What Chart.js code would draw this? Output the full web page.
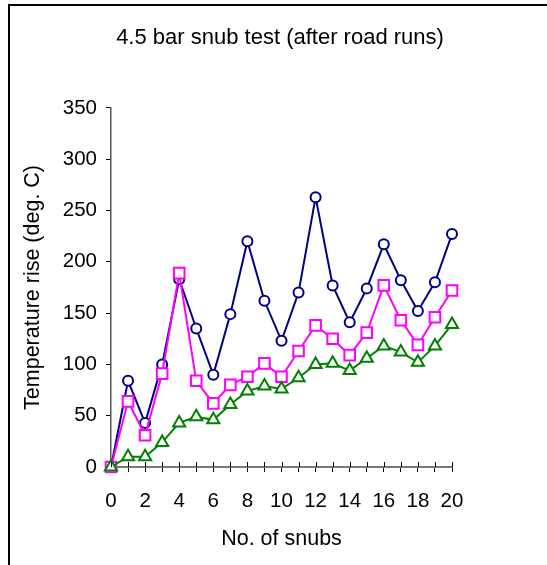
<!DOCTYPE html>
<html>
<head>
<meta charset="utf-8">
<script src="https://cdn.jsdelivr.net/npm/chart.js@4"></script>
<style>
    html, body { margin: 0; padding: 0; background: #fff; }
    #wrap { position: relative; width: 547px; height: 565px; overflow: hidden; }
    #frame {
        position: absolute; left: 8px; top: 4px; width: 600px; height: 600px;
        border-left: 2px solid #000; border-top: 2px solid #000;
    }
    canvas { position: absolute; left: 0; top: 0; }
</style>
</head>
<body>
<div id="wrap">
    <div id="frame"></div>
    <canvas id="chart" width="547" height="565"></canvas>
</div>
<script>
// data
const snubs = [0, 1, 2, 3, 4, 5, 6, 7, 8, 9, 10, 11, 12, 13, 14, 15, 16, 17, 18, 19, 20];
const riseBlue = [0, 84, 43, 100, 183, 135, 90, 149, 220, 162, 123, 170, 263, 177, 141, 174, 217, 182, 152, 180, 227];
const riseMagenta = [0, 64, 31, 91, 189, 84, 62, 80, 88, 101, 88, 113, 138, 125, 109, 131, 177, 143, 119, 146, 172];
const riseGreen = [0, 10, 10, 24, 43, 49, 46, 61, 74, 79, 76, 87, 100, 101, 94, 106, 118, 112, 102, 118, 139];
const yTicks = [0, 50, 100, 150, 200, 250, 300, 350];

const FONT = "'Liberation Sans', Arial, sans-serif";

function toPoints(values) {
    return snubs.map((x, i) => ({ x: x, y: values[i] }));
}

// ticks on the x axis cross the axis line, so draw the part above it too
const crossTicks = {
    id: 'crossTicks',
    afterDatasetsDraw(chart) {
        const xs = chart.scales.x;
        const ctx = chart.ctx;
        ctx.save();
        ctx.strokeStyle = '#000';
        ctx.lineWidth = 1;
        xs.ticks.forEach((t, i) => {
            const px = Math.round(xs.getPixelForTick(i)) + 0.5;
            ctx.beginPath();
            ctx.moveTo(px, xs.top - 5);
            ctx.lineTo(px, xs.top);
            ctx.stroke();
        });
        ctx.restore();
    }
};

function series(label, values, color, shape, radius, order) {
    return {
        label: label,
        data: toPoints(values),
        borderColor: color,
        borderWidth: 2,
        pointStyle: shape,
        pointRadius: radius,
        pointBorderWidth: 2,
        pointBackgroundColor: '#fff',
        pointBorderColor: color,
        tension: 0,
        clip: false,
        order: order
    };
}

new Chart(document.getElementById('chart'), {
    type: 'line',
    data: {
        datasets: [
            series('blue', riseBlue, '#000080', 'circle', 5, 3),
            series('magenta', riseMagenta, '#ff00ff', 'rect', 7.5, 2),
            series('green', riseGreen, '#008000', 'triangle', 7, 1)
        ]
    },
    options: {
        responsive: false,
        animation: false,
        devicePixelRatio: 1,
        // left padding centres the title like the original; the empty
        // right axis below pulls the plot area in to x = 20
        layout: { padding: { left: 13, right: 0, top: 0, bottom: 0 } },
        plugins: {
            legend: { display: false },
            tooltip: { enabled: false },
            title: {
                display: true,
                text: '4.5 bar snub test (after road runs)',
                color: '#000',
                font: { family: FONT, size: 22, weight: 'normal' },
                padding: { top: 25, bottom: 56.5 }
            }
        },
        scales: {
            x: {
                type: 'linear',
                min: 0,
                max: 20,
                afterFit: (scale) => { scale.height = 98; },
                afterBuildTicks: (scale) => {
                    scale.ticks = snubs.map(v => ({ value: v }));
                },
                ticks: {
                    autoSkip: false,
                    maxRotation: 0,
                    color: '#000',
                    padding: 17,
                    font: { family: FONT, size: 20.5 },
                    callback: (v) => (v % 2 === 0 ? String(v) : '')
                },
                grid: { drawOnChartArea: false, tickLength: 5, color: '#000', lineWidth: 1 },
                border: { color: '#777', width: 2 },
                title: {
                    display: true,
                    text: 'No. of snubs',
                    color: '#000',
                    font: { family: FONT, size: 21.5 },
                    padding: { top: 0, bottom: 13 }
                }
            },
            y: {
                min: 0,
                max: 350,
                afterFit: (scale) => { scale.width = 98; },
                afterBuildTicks: (scale) => {
                    scale.ticks = yTicks.map(v => ({ value: v }));
                },
                ticks: {
                    color: '#000',
                    padding: 9,
                    font: { family: FONT, size: 20.5 }
                },
                grid: { drawOnChartArea: false, tickLength: 5, color: '#000', lineWidth: 1 },
                border: { color: '#555', width: 1.5 },
                title: {
                    display: true,
                    text: 'Temperature rise (deg. C)',
                    color: '#000',
                    font: { family: FONT, size: 21.5 },
                    padding: { top: 7, bottom: 0 }
                }
            },
            spacer: {
                position: 'right',
                display: true,
                afterFit: (scale) => { scale.width = 95; },
                ticks: { display: false },
                grid: { display: false },
                border: { display: false }
            }
        }
    },
    plugins: [crossTicks]
});
</script>
</body>
</html>
